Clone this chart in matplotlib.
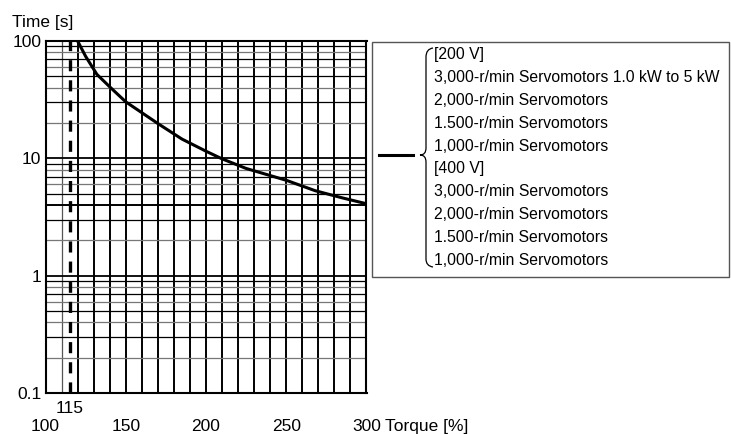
import numpy as np
from matplotlib import pyplot as plt
from matplotlib.path import Path
from matplotlib.patches import PathPatch, Rectangle

plt.rcParams['font.family'] = ['Liberation Sans', 'DejaVu Sans']
plt.rcParams['lines.scale_dashes'] = False

# overload characteristic
torque = [120, 125, 132, 140, 150, 160, 170, 185, 200, 210, 225, 250, 268, 285, 300]
time_s = [100, 74, 52, 40.7, 30.3, 24.5, 19.8, 14.6, 11.5, 9.9, 8.2, 6.5, 5.3, 4.6, 4.1]

limit_torque = 115
xticks = [100, 150, 200, 250, 300]
yticks = [0.1, 1, 10, 100]
yticklabels = ['0.1', '1', '10', '100']

legend_lines = ['[200 V]',
                '3,000-r/min Servomotors 1.0 kW to 5 kW',
                '2,000-r/min Servomotors',
                '1.500-r/min Servomotors',
                '1,000-r/min Servomotors',
                '[400 V]',
                '3,000-r/min Servomotors',
                '2,000-r/min Servomotors',
                '1.500-r/min Servomotors',
                '1,000-r/min Servomotors']

W, H = 731, 434
fig = plt.figure(figsize=(W/100, H/100), dpi=100)
ax = fig.add_axes([45.5/W, 1-393/H, 321/W, 352/H])
ax.set_yscale('log')
ax.set_xlim(100, 300)
ax.set_ylim(0.1, 100)

# vertical grid every 10 %
for xv in range(110, 300, 10):
    if xv == 110:
        ax.axvline(xv, color='#555555', lw=0.9, zorder=1)
    else:
        ax.axvline(xv, color='black', lw=1.4, zorder=1)

# horizontal grid
for dec in [0.1, 1, 10]:
    if dec > 0.1:
        ax.axhline(dec, color='black', lw=1.3, zorder=1)
    for k in range(2, 10):
        if k == 4 and dec == 1:
            ax.axhline(dec*k, color='black', lw=1.4, zorder=1)
        elif k % 2 == 1:
            ax.axhline(dec*k, color='black', lw=0.9, zorder=1)
        else:
            ax.axhline(dec*k, color='#777777', lw=0.9, zorder=1)

ax.axvline(limit_torque, color='black', lw=2.4, dashes=(8, 6.5), zorder=3)
ax.plot(torque, time_s, color='black', lw=2.2, zorder=4)

for s in ax.spines.values():
    s.set_linewidth(1.5)
    s.set_color('black')

ax.set_xticks(xticks)
ax.set_xticklabels([str(v) for v in xticks], fontsize=12.5)
ax.set_yticks(yticks)
ax.set_yticklabels(yticklabels, fontsize=12.5)
ax.yaxis.set_minor_locator(plt.NullLocator())
ax.tick_params(axis='x', length=0, pad=19)
ax.tick_params(axis='y', length=0, pad=3)
ax.text(limit_torque, -0.043, str(limit_torque), transform=ax.get_xaxis_transform(),
        ha='center', va='center', fontsize=12.5)

fig.text(12/W, 1-23/H, 'Time [s]', ha='left', va='center', fontsize=12.5)
fig.text(385/W, 1-427/H, 'Torque [%]', ha='left', va='center', fontsize=12.5)

# legend box drawn in pixel coordinates
ov = fig.add_axes([0, 0, 1, 1], zorder=5)
ov.set_xlim(0, W)
ov.set_ylim(H, 0)
ov.axis('off')
ov.patch.set_visible(False)
ov.add_patch(Rectangle((372, 42), 357, 235, fill=False, edgecolor='#555555', lw=1))
ov.plot([379, 413], [155, 155], color='black', lw=2.2)
verts = [(433, 48), (426, 49), (426, 57),
         (426, 148),
         (426, 155), (420, 155),
         (426, 155), (426, 162),
         (426, 259),
         (426, 266), (433, 267)]
codes = [Path.MOVETO, Path.CURVE3, Path.CURVE3,
         Path.LINETO,
         Path.CURVE3, Path.CURVE3,
         Path.CURVE3, Path.CURVE3,
         Path.LINETO,
         Path.CURVE3, Path.CURVE3]
ov.add_patch(PathPatch(Path(verts, codes), fill=False, edgecolor='black', lw=0.9))
for i, line in enumerate(legend_lines):
    ov.text(434, 55 + i*22.8, line, ha='left', va='center', fontsize=11.3)

fig.savefig('out.png', dpi=100)
